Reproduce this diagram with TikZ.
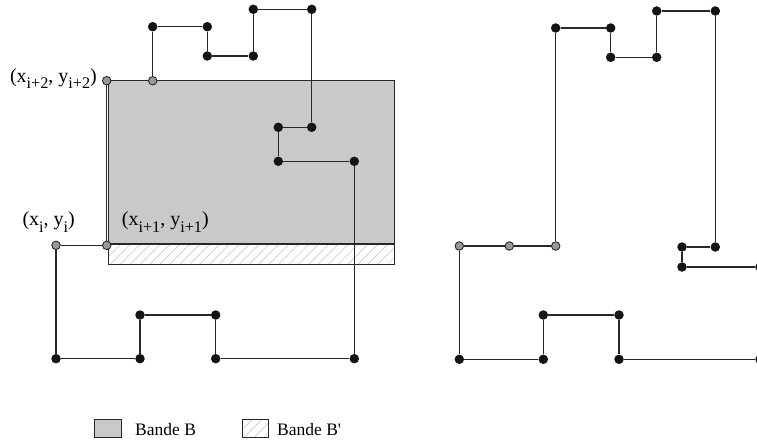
\documentclass[tikz,border=0pt]{standalone}
\usepackage{fontspec}
\setmainfont{Liberation Serif}
\usetikzlibrary{patterns.meta}

\definecolor{bandgray}{RGB}{200,201,203}
\definecolor{inkgray}{RGB}{40,40,42}

\newcommand{\ix}[1]{\raisebox{-0.32em}{\fontsize{16.2}{17}\selectfont #1}}

\tikzset{
	walkpicture/.style = {
		x = 1pt,
		y = -1pt,
		link/.style = {
			draw = inkgray,
			line width = 1.3pt,
			line join = miter
		}
	},
	pathdot/.style = {
		circle,
		fill = black!92,
		inner sep = 0pt,
		minimum size = 9.5pt
	},
	stepdot/.style = {
		circle,
		draw = inkgray,
		fill = gray!80,
		line width = 0.9pt,
		inner sep = 0pt,
		minimum size = 8.5pt
	},
	bandB/.style = {
		draw = inkgray,
		line width = 1.3pt,
		fill = bandgray
	},
	bandBprime/.style = {
		draw = inkgray,
		line width = 1.3pt,
		pattern = {Lines[angle = 45, distance = 7pt, line width = 0.5pt]},
		pattern color = black!25
	},
	coordtext/.style = {
		font = \fontsize{20}{23}\selectfont,
		inner sep = 0pt
	},
	legendtext/.style = {
		font = \fontsize{17.5}{20}\selectfont,
		inner sep = 0pt,
		anchor = base west
	}
}

\begin{document}
\begin{tikzpicture}[walkpicture]
	\useasboundingbox (0,0) rectangle (757,444);

	% bands
	\path[bandB] (108.5,80.7) rectangle (394.3,244);
	\path[bandBprime] (108.5,244) rectangle (394.3,264.7);

	% left walk
	\node[stepdot] (g0) at (56,245.3) {};
	\node[stepdot] (g1) at (106.7,245.3) {};
	\node[stepdot] (g2) at (106.7,80.7) {};
	\node[stepdot] (g3) at (152.7,80.7) {};

	\node[pathdot] (t1) at (152.7,26.7) {};
	\node[pathdot] (t2) at (207.3,26.7) {};
	\node[pathdot] (t3) at (207.3,56) {};
	\node[pathdot] (t4) at (253.3,56) {};
	\node[pathdot] (t5) at (253.3,9.3) {};
	\node[pathdot] (t6) at (311.7,9.3) {};
	\node[pathdot] (t7) at (311.7,127.3) {};
	\node[pathdot] (t8) at (278.3,127.3) {};
	\node[pathdot] (t9) at (278.3,161.3) {};
	\node[pathdot] (t10) at (354.3,161.3) {};

	\node[pathdot] (b1) at (56,358.7) {};
	\node[pathdot] (b2) at (140,358.7) {};
	\node[pathdot] (b3) at (140,315) {};
	\node[pathdot] (b4) at (215.7,315) {};
	\node[pathdot] (b5) at (215.7,358.7) {};
	\node[pathdot] (b6) at (354.3,358.7) {};

	% right walk
	\node[stepdot] (h0) at (459.3,246) {};
	\node[stepdot] (h1) at (509.3,246) {};
	\node[stepdot] (h2) at (555.7,246) {};

	\node[pathdot] (s1) at (555.7,28) {};
	\node[pathdot] (s2) at (610.7,28) {};
	\node[pathdot] (s3) at (610.7,57.3) {};
	\node[pathdot] (s4) at (656.7,57.3) {};
	\node[pathdot] (s5) at (656.7,11) {};
	\node[pathdot] (s6) at (715.3,11) {};
	\node[pathdot] (s7) at (715.3,247) {};
	\node[pathdot] (s8) at (682,247) {};
	\node[pathdot] (s9) at (682,267) {};
	\node[pathdot] (s10) at (760,267) {};

	\node[pathdot] (c1) at (459.3,359.3) {};
	\node[pathdot] (c2) at (543.3,359.3) {};
	\node[pathdot] (c3) at (543.3,315) {};
	\node[pathdot] (c4) at (619,315) {};
	\node[pathdot] (c5) at (619,359.3) {};
	\node[pathdot] (c6) at (760,359.3) {};

	\begin{scope}[every path/.style = link]
		\path (g0) -- (g1) -- (g2) -- (g3) -- (t1) -- (t2) -- (t3) -- (t4) -- (t5) -- (t6) -- (t7) -- (t8) -- (t9) -- (t10) -- (b6);
		\path (g0) -- (b1) -- (b2) -- (b3) -- (b4) -- (b5) -- (b6);

		\path (s10) -- (s9) -- (s8) -- (s7) -- (s6) -- (s5) -- (s4) -- (s3) -- (s2) -- (s1) -- (h2) -- (h1) -- (h0);
		\path (h0) -- (c1) -- (c2) -- (c3) -- (c4) -- (c5) -- (c6);
	\end{scope}

	% labels
	\node[coordtext, anchor = base east] (L2) at (97,82.3) {(x\ix{i+2}, y\ix{i+2})};
	\node[coordtext, anchor = base west] (L0) at (22.3,225.7) {(x\ix{i}, y\ix{i})};
	\node[coordtext, anchor = base west] (L1) at (121.7,225.7) {(x\ix{i+1}, y\ix{i+1})};

	% legend
	\path[bandB, line width = 1pt] (94,419) rectangle (121.7,437.7);
	\node[legendtext] (B) at (135,435.5) {Bande B};
	\path[bandBprime, line width = 1pt] (242.7,419) rectangle (268.3,437.7);
	\node[legendtext] (B') at (277,435.5) {Bande B\textquotesingle};
\end{tikzpicture}
\end{document}
